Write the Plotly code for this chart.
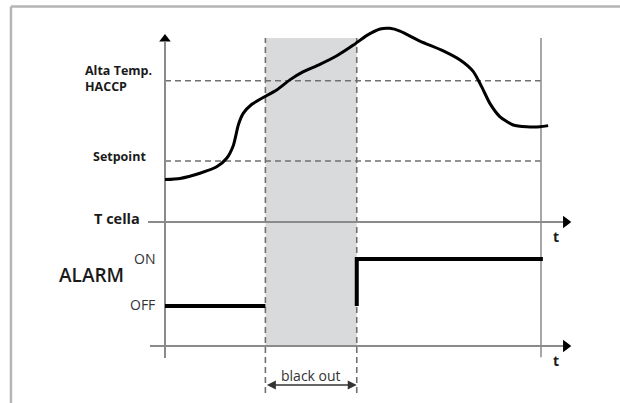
import plotly.graph_objects as go

# ---- data (time units, temperature units, alarm state) ----
time_pts = [0.0, 0.40, 0.93, 1.375, 1.64, 1.82, 1.95, 2.08, 2.31, 2.61, 2.97, 3.32, 3.68, 4.12,
            4.57, 5.01, 5.36, 5.72, 5.98, 6.25, 6.78, 7.40, 7.85, 8.20, 8.42, 8.64, 8.91, 9.26,
            9.62, 9.97, 10.19]
temp_pts = [1.39, 1.43, 1.60, 1.81, 2.09, 2.52, 3.18, 3.56, 3.86, 4.08, 4.33, 4.66, 4.93, 5.17,
            5.45, 5.80, 6.11, 6.33, 6.35, 6.26, 5.93, 5.61, 5.31, 4.93, 4.44, 3.89, 3.45, 3.18,
            3.12, 3.12, 3.16]
SETPOINT = 2.0
HACCP_HIGH = 4.63
BLACKOUT_START = 2.67
BLACKOUT_END = 5.10
T_END = 10.0
alarm_t = [0.0, BLACKOUT_START, None, BLACKOUT_END, BLACKOUT_END, 10.05]
alarm_state = [0, 0, None, 0, 1, 1]

level_labels = ["Alta Temp.<br>HACCP", "Setpoint"]
alarm_labels = ["OFF", "ON"]

# ---- ranges (so that one time unit / temperature unit maps to a fixed size) ----
X_RANGE = [-4.388, 12.101]
Y_RANGE = [-5.934, 7.279]     # temperature panel
Y2_RANGE = [-2.064, 6.511]    # alarm panel

AX = "#8a8a8a"
DASH = "#707070"

fig = go.Figure()

# temperature curve
fig.add_trace(go.Scatter(x=time_pts, y=temp_pts, mode="lines",
                         line=dict(color="black", width=3, shape="spline", smoothing=0.6),
                         hoverinfo="skip", showlegend=False))
# alarm step
fig.add_trace(go.Scatter(x=alarm_t, y=alarm_state, mode="lines", yaxis="y2",
                         line=dict(color="black", width=4), connectgaps=False,
                         hoverinfo="skip", showlegend=False))
# arrow heads of axes
fig.add_trace(go.Scatter(x=[10.66], y=[0], mode="markers",
                         marker=dict(symbol="triangle-right", size=11, color="black"),
                         hoverinfo="skip", showlegend=False))
fig.add_trace(go.Scatter(x=[10.66], y=[-0.851], mode="markers", yaxis="y2",
                         marker=dict(symbol="triangle-right", size=11, color="black"),
                         hoverinfo="skip", showlegend=False))
fig.add_trace(go.Scatter(x=[0], y=[6.0], mode="markers",
                         marker=dict(symbol="triangle-up", size=10, color="black"),
                         hoverinfo="skip", showlegend=False))

shapes = []
# black-out shading
shapes.append(dict(type="rect", xref="x", yref="y", x0=BLACKOUT_START, x1=BLACKOUT_END,
                   y0=-4.07, y1=6.03, fillcolor="#d9dadc", line_width=0, layer="below"))
# horizontal dashed levels
for lv in [HACCP_HIGH, SETPOINT]:
    shapes.append(dict(type="line", xref="x", yref="y", x0=0, x1=T_END, y0=lv, y1=lv,
                       layer="below", line=dict(color=DASH, width=1.6, dash="6px,4px")))
# vertical dashed black-out limits
for tv in [BLACKOUT_START, BLACKOUT_END]:
    shapes.append(dict(type="line", xref="x", yref="y", x0=tv, x1=tv, y0=-5.61, y1=6.03,
                       layer="below", line=dict(color=DASH, width=1.6, dash="6px,4px")))
# vertical axis
shapes.append(dict(type="line", xref="x", yref="y", x0=0, x1=0, y0=-4.46, y1=5.9,
                   layer="below", line=dict(color=AX, width=2)))
# end-time vertical line
shapes.append(dict(type="line", xref="x", yref="y", x0=T_END, x1=T_END, y0=-4.43, y1=6.03,
                   layer="below", line=dict(color=AX, width=1.5)))
# T cella time axis
shapes.append(dict(type="line", xref="x", yref="y", x0=-0.45, x1=10.6, y0=0, y1=0,
                   layer="below", line=dict(color=AX, width=2)))
# alarm time axis
shapes.append(dict(type="line", xref="x", yref="y2", x0=-0.40, x1=10.6, y0=-0.851, y1=-0.851,
                   layer="below", line=dict(color=AX, width=2)))
# frame (top and left)
shapes.append(dict(type="line", xref="paper", yref="paper", x0=0.0177, x1=1.0, y0=0.984, y1=0.984,
                   line=dict(color="#b5b5b5", width=2.5)))
shapes.append(dict(type="line", xref="paper", yref="paper", x0=0.0177, x1=0.0177, y0=0.0, y1=0.984,
                   line=dict(color="#b5b5b5", width=2.5)))

LBL = "Open Sans"
annotations = [
    dict(x=-2.18, y=4.70, xref="x", yref="y", text="<b>" + level_labels[0] + "</b>",
         xanchor="left", align="left", showarrow=False,
         font=dict(family=LBL, size=12.5, color="#1a1a1a")),
    dict(x=-0.46, y=2.16, xref="x", yref="y", text="<b>" + level_labels[1] + "</b>",
         xanchor="right", showarrow=False, font=dict(family=LBL, size=12.5, color="#1a1a1a")),
    dict(x=-0.62, y=0.10, xref="x", yref="y", text="<b>T cella</b>",
         xanchor="right", showarrow=False, font=dict(family=LBL, size=14.5, color="#1a1a1a")),
    dict(x=10.40, y=-0.49, xref="x", yref="y", text="<b>t</b>",
         showarrow=False, font=dict(family=LBL, size=14, color="#1a1a1a")),
    dict(x=10.40, y=-1.15, xref="x", yref="y2", text="<b>t</b>",
         showarrow=False, font=dict(family=LBL, size=14, color="#1a1a1a")),
    dict(x=-0.20, y=1.02, xref="x", yref="y2", text=alarm_labels[1],
         xanchor="right", showarrow=False, font=dict(family=LBL, size=14, color="#333")),
    dict(x=-0.20, y=0.04, xref="x", yref="y2", text=alarm_labels[0],
         xanchor="right", showarrow=False, font=dict(family=LBL, size=14, color="#333")),
    dict(x=-1.04, y=0.66, xref="x", yref="y2", text="ALARM",
         xanchor="right", showarrow=False,
         font=dict(family=LBL, size=19, color="#1a1a1a", weight=600)),
    dict(x=(BLACKOUT_START + BLACKOUT_END) / 2, y=-1.47, xref="x", yref="y2", text="black out",
         showarrow=False, font=dict(family=LBL, size=14, color="#333")),
    # double arrow for black-out duration
    dict(x=BLACKOUT_END, y=-1.68, ax=BLACKOUT_START, ay=-1.68, xref="x", yref="y2",
         axref="x", ayref="y2", text="", showarrow=True, arrowhead=2, arrowside="end+start",
         arrowsize=1.2, arrowwidth=1.5, arrowcolor="#333"),
]

fig.update_layout(
    width=620, height=403, autosize=False,
    margin=dict(l=0, r=0, t=0, b=0),
    paper_bgcolor="white", plot_bgcolor="white",
    xaxis=dict(range=X_RANGE, visible=False, fixedrange=True),
    yaxis=dict(range=Y_RANGE, visible=False, fixedrange=True),
    yaxis2=dict(range=Y2_RANGE, visible=False, overlaying="y", fixedrange=True),
    shapes=shapes, annotations=annotations, showlegend=False,
)

fig.write_html("out.html", config={"displayModeBar": False},
               post_script="document.body.style.margin='0';document.body.style.overflow='hidden';")
